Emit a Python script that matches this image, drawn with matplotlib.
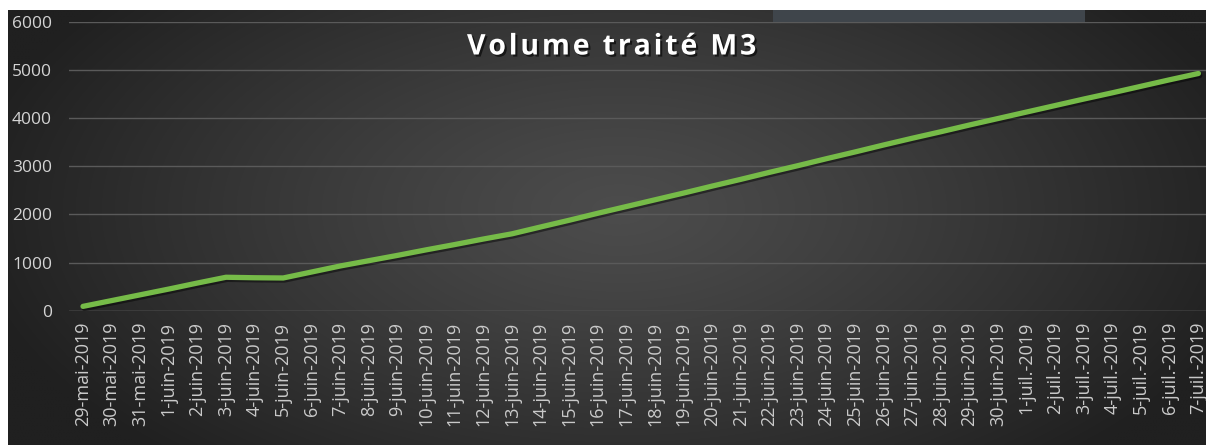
import numpy as np
import matplotlib
matplotlib.use("Agg")
import matplotlib.pyplot as plt
import matplotlib.patheffects as pe
from matplotlib.patches import Rectangle

plt.rcParams['font.family'] = ['Open Sans', 'DejaVu Sans']

# data
dates = ['29-mai-2019', '30-mai-2019', '31-mai-2019'] + \
        ['%d-juin-2019' % d for d in range(1, 31)] + \
        ['%d-juil.-2019' % d for d in range(1, 8)]
volume = [90, 210, 330, 450, 575, 695, 685, 680, 805, 930,
          1040, 1150, 1265, 1375, 1490, 1598, 1740, 1880, 2025, 2165,
          2305, 2445, 2590, 2730, 2875, 3015, 3160, 3300, 3445, 3585,
          3720, 3860, 3995, 4130, 4265, 4400, 4530, 4665, 4800, 4930]
yticks = [0, 1000, 2000, 3000, 4000, 5000, 6000]
title = "Volume traité M3"

W, H = 1206, 445
fig = plt.figure(figsize=(W / 100, H / 100), dpi=100)
fig.patch.set_facecolor('white')

# background with radial shading
bg = fig.add_axes([8 / W, 0, 1 - 8 / W, (H - 10) / H], zorder=0)
xx, yy = np.meshgrid(np.linspace(8, W, 400), np.linspace(10, H, 200))
r = np.sqrt(((xx - 620) / 660.0) ** 2 + ((yy - 210) / 340.0) ** 2)
r = np.clip(r, 0, 1)
g = (0x4c - (0x4c - 0x20) * r ** 1.2) / 255.0
img = np.dstack([g, g, g])
bg.imshow(img, aspect='auto', extent=[0, 1, 0, 1], interpolation='bilinear')
bg.set_xlim(0, 1)
bg.set_ylim(0, 1)
bg.axis('off')
# muted strip at the top (leftover of the screenshot)
fig.patches.append(Rectangle((773 / W, (H - 22) / H), (1085 - 773) / W, 12 / H,
                             transform=fig.transFigure, facecolor='#3f454b',
                             edgecolor='none', zorder=0.5))

# plot area
x0 = 83 - 0.5 * 28.6
ax = fig.add_axes([x0 / W, (H - 310.7) / H, 40 * 28.6 / W, (310.7 - 22) / H], zorder=1)
ax.patch.set_alpha(0)
x = np.arange(len(dates))
ax.plot(x, volume, color='#76bb48', lw=3.8, solid_capstyle='round', solid_joinstyle='round',
        path_effects=[pe.SimpleLineShadow(offset=(1, -1.5), shadow_color='black', alpha=0.45),
                      pe.Normal()], zorder=3)

ax.set_xlim(-0.5, len(dates) - 0.5)
ax.set_ylim(0, 6000)
ax.set_yticks(yticks)
ax.set_yticklabels([str(v) for v in yticks])
ax.set_xticks(x)
ax.set_xticklabels(dates, rotation=90)
ax.tick_params(axis='y', length=0, pad=12, labelsize=12.5, labelcolor='#d4d4d4')
ax.tick_params(axis='x', length=0, pad=8, labelsize=13, labelcolor='#cacaca')
ax.grid(axis='y', color='#5a5a5a', lw=1)
ax.set_axisbelow(True)
for s in ax.spines.values():
    s.set_visible(False)
ax.axhline(0, color='#5e5e5e', lw=1, zorder=2)

# title (spread letters a bit like the original)
spaced = '\u200a'.join(title)
fig.text(612 / W, 1 - 47 / H, spaced, ha='center', va='center', color='white',
         fontsize=20.5, fontweight='bold',
         path_effects=[pe.withSimplePatchShadow(offset=(1.5, -1.5), shadow_rgbFace='black', alpha=0.6)])

fig.savefig('out.png', dpi=100, facecolor=fig.get_facecolor())
